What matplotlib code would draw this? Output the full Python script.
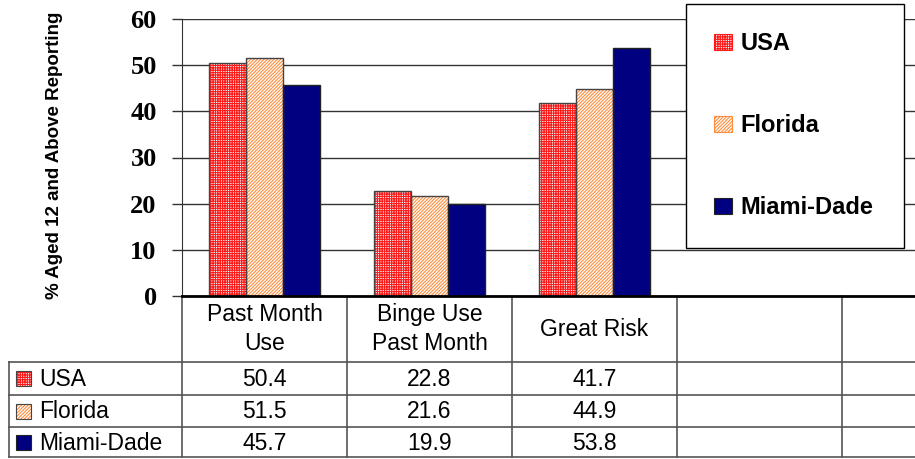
import matplotlib
matplotlib.use("Agg")
import matplotlib.pyplot as plt
from matplotlib.patches import Patch, Rectangle

categories = ["Past Month\nUse", "Binge Use\nPast Month", "Great Risk", "", ""]
series_names = ["USA", "Florida", "Miami-Dade"]
usa = [50.4, 22.8, 41.7]
florida = [51.5, 21.6, 44.9]
miami = [45.7, 19.9, 53.8]
yticks = [0, 10, 20, 30, 40, 50, 60]

plt.rcParams['font.family'] = ['Liberation Sans', 'DejaVu Sans']
plt.rcParams['hatch.linewidth'] = 0.8

# fill, hatch colour, hatch pattern, edge
styles = [
    ('white', '#ff1a1a', '+++++++', '#444444'),
    ('white', '#ff8c3c', '//////////', '#444444'),
    ('#000080', '#000080', None, '#222222'),
]
values = [usa, florida, miami]

W, H = 915, 459
fig = plt.figure(figsize=(9.15, 4.59), dpi=100)
ax = fig.add_axes([182 / W, (H - 296) / H, 825 / W, 277 / H])

ncat = len(categories)
width = 0.224
for k, (vals, (fc, hc, hatch, ec)) in enumerate(zip(values, styles)):
    xs = [i + (k - 1) * width for i in range(len(vals))]
    ax.bar(xs, vals, width, facecolor=fc, edgecolor=hc, hatch=hatch, lw=0, zorder=2)
    ax.bar(xs, vals, width, fill=False, edgecolor=ec, lw=1, zorder=3)

ax.set_xlim(-0.5, ncat - 0.5)
ax.set_ylim(0, 60)
ax.set_yticks(yticks)
ax.set_yticklabels([str(t) for t in yticks], fontfamily='Liberation Serif',
                   fontweight='bold', fontsize=19)
ax.tick_params(axis='y', length=7.2, width=1, pad=11, color='#333333')
ax.set_xticks([])
ax.yaxis.grid(True, color='#333333', lw=1)
ax.set_axisbelow(True)
for s in ['top', 'right']:
    ax.spines[s].set_visible(False)
ax.spines['left'].set_color('#333333')
ax.spines['bottom'].set_color('black')
ax.spines['bottom'].set_linewidth(2)
ax.spines['bottom'].set_zorder(4)

fig.text(55 / W, 1 - 155 / H, "% Aged 12 and Above Reporting", rotation=90,
         ha='center', va='center', fontsize=13.5, fontweight='bold')

# data table under the axis
trans = ax.get_xaxis_transform()
px = 1 / 277.0
header_h = 66 * px
row_h = [32.5 * px, 32 * px, 30.5 * px]
label_left = -0.5 - 173 / 165.0
line_kw = dict(transform=trans, clip_on=False, color='#555555', lw=1.2)

row_tops = [-header_h]
for h in row_h:
    row_tops.append(row_tops[-1] - h)
bottom = row_tops[-1]

for b in range(ncat + 1):
    ax.plot([b - 0.5, b - 0.5], [0, bottom], **line_kw)
ax.plot([label_left, label_left], [-header_h, bottom], **line_kw)
for y in row_tops:
    ax.plot([label_left, ncat - 0.5], [y, y], **line_kw)

for i, c in enumerate(categories):
    ax.text(i, -header_h / 2, c, transform=trans, ha='center', va='center',
            fontsize=16.5, linespacing=1.3, clip_on=False)

for r, (name, vals, (fc, hc, hatch, ec)) in enumerate(zip(series_names, values, styles)):
    yc = (row_tops[r] + row_tops[r + 1]) / 2
    ax.add_patch(Rectangle((label_left + 7 / 165.0, yc - 8 * px), 15 / 165.0, 15 * px,
                           transform=trans, facecolor=fc, edgecolor=hc, hatch=hatch,
                           lw=0, clip_on=False))
    ax.add_patch(Rectangle((label_left + 7 / 165.0, yc - 8 * px), 15 / 165.0, 15 * px,
                           transform=trans, fill=False, edgecolor=ec, lw=0.8,
                           clip_on=False))
    ax.text(label_left + 30 / 165.0, yc - 1.5 * px, name, transform=trans,
            ha='left', va='center', fontsize=16.5, clip_on=False)
    for i, v in enumerate(vals):
        ax.text(i, yc - 1.5 * px, f"{v:.1f}", transform=trans, ha='center',
                va='center', fontsize=16.5, clip_on=False)

handles = [Patch(facecolor=fc, edgecolor=hc if hatch else ec, hatch=hatch, lw=0.8)
           for fc, hc, hatch, ec in styles]
leg = fig.legend(handles, series_names, loc='upper left',
                 bbox_to_anchor=(686 / W, 1 - 243 / H, 218 / W, 239 / H), mode='expand',
                 frameon=True, fancybox=False, edgecolor='black', framealpha=1,
                 borderaxespad=0, borderpad=1.2, labelspacing=2.5, handlelength=0.76,
                 handleheight=0.68, handletextpad=0.34,
                 prop=dict(family='Liberation Sans', weight='bold', size=17))
leg.get_frame().set_linewidth(1.0)

fig.savefig("out.png", dpi=100)
